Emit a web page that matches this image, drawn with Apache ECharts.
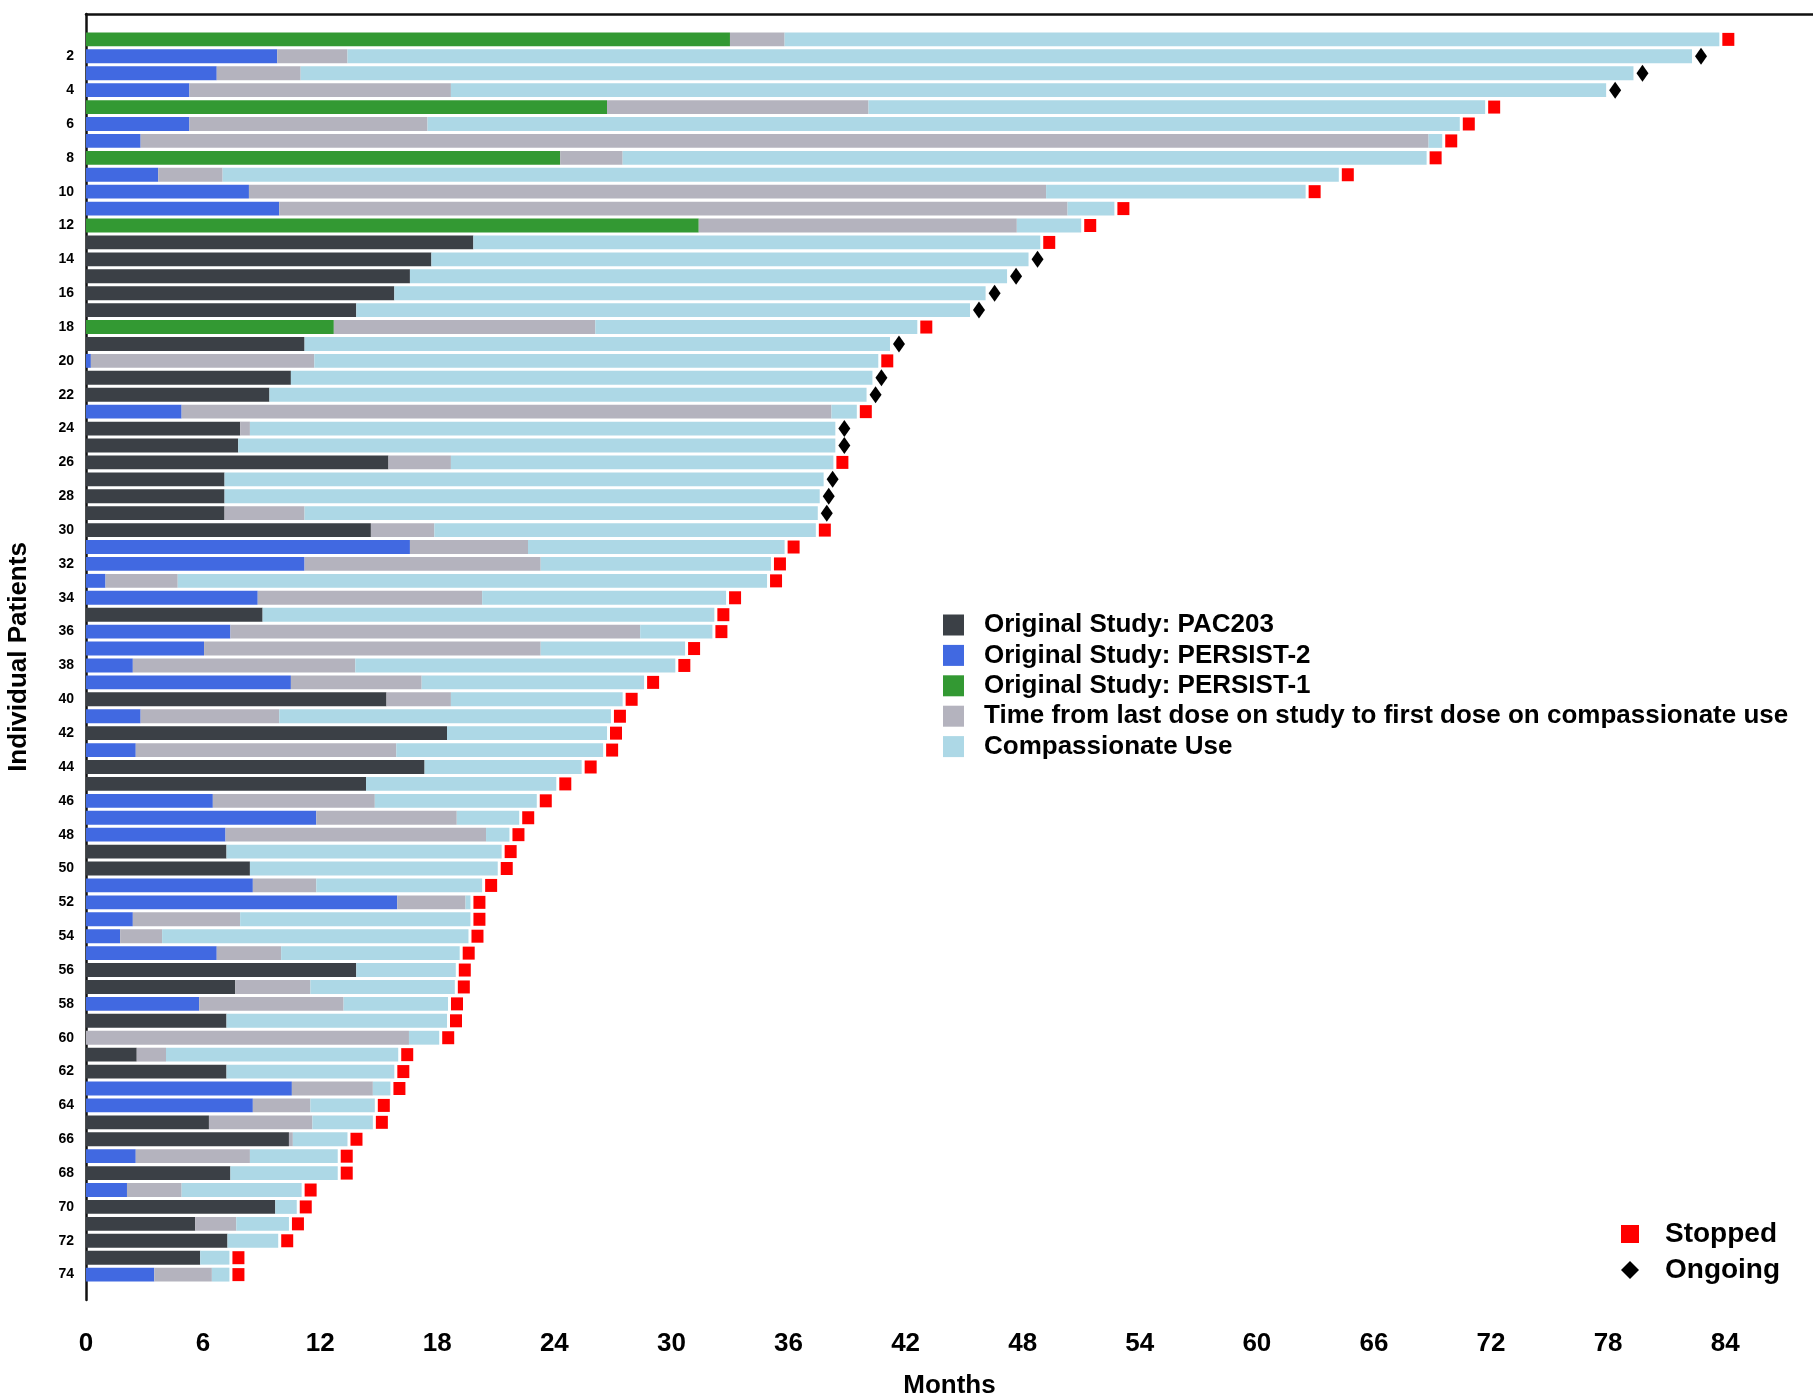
<!DOCTYPE html>
<html>
<head>
<meta charset="utf-8">
<script src="https://cdn.jsdelivr.net/npm/echarts@6/dist/echarts.min.js"></script>
<style>
  html, body { margin: 0; padding: 0; background: #fff; }
  #chart { width: 1813px; height: 1397px; }
</style>
</head>
<body>
<div id="chart"></div>
<script>
// one entry per patient, top to bottom (patient 1 .. 74)
const studyType = [
  'P1', 'P2', 'P2', 'P2', 'P1', 'P2', 'P2', 'P1', 'P2', 'P2',
  'P2', 'P1', 'PAC', 'PAC', 'PAC', 'PAC', 'PAC', 'P1', 'PAC', 'P2',
  'PAC', 'PAC', 'P2', 'PAC', 'PAC', 'PAC', 'PAC', 'PAC', 'PAC', 'PAC',
  'P2', 'P2', 'P2', 'P2', 'PAC', 'P2', 'P2', 'P2', 'P2', 'PAC',
  'P2', 'PAC', 'P2', 'PAC', 'PAC', 'P2', 'P2', 'P2', 'PAC', 'PAC',
  'P2', 'P2', 'P2', 'P2', 'P2', 'PAC', 'PAC', 'P2', 'PAC', 'P2',
  'PAC', 'PAC', 'P2', 'P2', 'PAC', 'PAC', 'P2', 'PAC', 'P2', 'PAC',
  'PAC', 'PAC', 'PAC', 'P2'
];
// months on original study
const onStudy = [
  33.0, 9.8, 6.7, 5.3, 26.7, 5.3, 2.8, 24.3, 3.7, 8.35,
  9.9, 31.4, 19.85, 17.7, 16.6, 15.8, 13.85, 12.7, 11.2, 0.25,
  10.5, 9.4, 4.9, 7.9, 7.8, 15.5, 7.1, 7.1, 7.1, 14.6,
  16.6, 11.2, 1.0, 8.8, 9.05, 7.4, 6.05, 2.4, 10.5, 15.4,
  2.8, 18.5, 2.55, 17.35, 14.35, 6.5, 11.8, 7.15, 7.2, 8.4,
  8.55, 15.95, 2.4, 1.75, 6.7, 13.85, 7.65, 5.8, 7.2, 0,
  2.6, 7.2, 10.55, 8.55, 6.3, 10.4, 2.55, 7.4, 2.1, 9.7,
  5.6, 7.25, 5.85, 3.5
];
// months from last study dose to first compassionate-use dose
const gapMonths = [
  2.8, 3.6, 4.3, 13.4, 13.4, 12.2, 66.0, 3.2, 3.3, 40.85,
  40.4, 16.3, 0, 0, 0, 0, 0, 13.4, 0, 11.45,
  0, 0, 33.3, 0.5, 0, 3.2, 0, 0, 4.1, 3.25,
  6.05, 12.1, 3.7, 11.5, 0, 21.0, 17.25, 11.4, 6.7, 3.3,
  7.1, 0, 13.35, 0, 0, 8.3, 7.2, 13.35, 0, 0,
  3.25, 3.5, 5.5, 2.15, 3.3, 0, 3.85, 7.4, 0, 16.55,
  1.5, 0, 4.15, 2.95, 5.3, 0.2, 5.85, 0, 2.8, 0,
  2.1, 0, 0, 2.95
];
// month at which the swimmer line ends
const lastMonth = [
  83.7, 82.3, 79.3, 77.9, 71.7, 70.4, 69.5, 68.7, 64.2, 62.5,
  52.7, 51.0, 48.9, 48.3, 47.2, 46.1, 45.3, 42.6, 41.2, 40.6,
  40.3, 40.0, 39.5, 38.4, 38.4, 38.3, 37.8, 37.6, 37.5, 37.4,
  35.8, 35.1, 34.9, 32.8, 32.2, 32.1, 30.7, 30.2, 28.6, 27.5,
  26.9, 26.7, 26.5, 25.4, 24.1, 23.1, 22.2, 21.7, 21.3, 21.1,
  20.3, 19.7, 19.7, 19.6, 19.15, 18.95, 18.9, 18.55, 18.5, 18.1,
  16.0, 15.8, 15.6, 14.8, 14.7, 13.4, 12.9, 12.9, 11.05, 10.8,
  10.4, 9.85, 7.35, 7.35
];
// S = stopped, O = ongoing
const status = [
  'S', 'O', 'O', 'O', 'S', 'S', 'S', 'S', 'S', 'S',
  'S', 'S', 'S', 'O', 'O', 'O', 'O', 'S', 'O', 'S',
  'O', 'O', 'S', 'O', 'O', 'S', 'O', 'O', 'O', 'S',
  'S', 'S', 'S', 'S', 'S', 'S', 'S', 'S', 'S', 'S',
  'S', 'S', 'S', 'S', 'S', 'S', 'S', 'S', 'S', 'S',
  'S', 'S', 'S', 'S', 'S', 'S', 'S', 'S', 'S', 'S',
  'S', 'S', 'S', 'S', 'S', 'S', 'S', 'S', 'S', 'S',
  'S', 'S', 'S', 'S'
];
const xTicks = [0, 6, 12, 18, 24, 30, 36, 42, 48, 54, 60, 66, 72, 78, 84];

const FONT = "'Liberation Sans', Arial, Helvetica, sans-serif";

// padding slot above patient 1 and below patient 74
const categories = ['top'].concat(onStudy.map((v, i) => String(i + 1)), ['bottom']);
const pad = (arr) => [0].concat(arr, [0]);

const studyData = (code) => pad(onStudy.map((v, i) => (studyType[i] === code ? v : 0)));
const cuData = pad(lastMonth.map((v, i) => +(v - onStudy[i] - gapMonths[i]).toFixed(2)));

const markerData = (code) => lastMonth
  .map((v, i) => (status[i] === code ? [v, i + 1] : null))
  .filter((d) => d);

const showRow = (index) => index > 0 && index < categories.length - 1 && index % 2 === 0;

const barSeries = (name, data, color) => ({
  name,
  type: 'bar',
  stack: 'swim',
  barWidth: '82%',
  data,
  itemStyle: { color },
  emphasis: { disabled: true },
  silent: true
});

const chart = echarts.init(document.getElementById('chart'), null, { renderer: 'canvas' });

chart.setOption({
  animation: false,
  backgroundColor: '#fff',
  grid: { left: 86, right: 0, top: 14, bottom: 97, outerBoundsMode: 'none' },
  legend: [
    {
      left: 938,
      top: 607,
      orient: 'vertical',
      icon: 'rect',
      itemWidth: 21,
      itemHeight: 21,
      itemGap: 4.4,
      textStyle: { fontFamily: FONT, fontSize: 26, fontWeight: 'bold', color: '#000', padding: [0, 0, 0, 15] },
      data: [
        'Original Study: PAC203',
        'Original Study: PERSIST-2',
        'Original Study: PERSIST-1',
        'Time from last dose on study to first dose on compassionate use',
        'Compassionate Use'
      ]
    },
    {
      left: 1616,
      top: 1215,
      orient: 'vertical',
      itemWidth: 18,
      itemHeight: 18,
      itemGap: 8,
      textStyle: { fontFamily: FONT, fontSize: 28, fontWeight: 'bold', color: '#000', padding: [0, 0, 0, 21] },
      data: [
        { name: 'Stopped', icon: 'rect' },
        { name: 'Ongoing', icon: 'diamond' }
      ]
    }
  ],
  xAxis: [
    {
      type: 'value',
      min: 0,
      max: 88.5,
      interval: 6,
      name: 'Months',
      nameLocation: 'middle',
      nameGap: 73,
      nameTextStyle: { fontFamily: FONT, fontSize: 26, fontWeight: 'bold', color: '#000' },
      splitLine: { show: false },
      axisLine: { lineStyle: { color: '#111', width: 2.5 } },
      axisTick: { length: 10, lineStyle: { color: '#111', width: 2 } },
      axisLabel: {
        margin: 31,
        showMaxLabel: false,
        fontFamily: FONT,
        fontSize: 26,
        fontWeight: 'bold',
        color: '#000',
        formatter: (v) => (xTicks.indexOf(v) >= 0 ? String(v) : '')
      }
    },
    {
      type: 'value',
      position: 'top',
      min: 0,
      max: 88.5,
      axisLine: { show: true, lineStyle: { color: '#111', width: 2.5 } },
      axisTick: { show: false },
      axisLabel: { show: false },
      splitLine: { show: false }
    }
  ],
  yAxis: {
    type: 'category',
    inverse: true,
    data: categories,
    name: 'Individual Patients',
    nameLocation: 'middle',
    nameGap: 54,
    nameRotate: 90,
    nameTextStyle: { fontFamily: FONT, fontSize: 26, fontWeight: 'bold', color: '#000' },
    axisLine: { lineStyle: { color: '#111', width: 2.5 } },
    axisTick: { alignWithLabel: true, interval: showRow, length: 8, lineStyle: { color: '#111', width: 2 } },
    axisLabel: {
      interval: showRow,
      margin: 12,
      fontFamily: FONT,
      fontSize: 14,
      fontWeight: 'bold',
      color: '#000'
    }
  },
  series: [
    barSeries('Original Study: PAC203', studyData('PAC'), '#3b4046'),
    barSeries('Original Study: PERSIST-2', studyData('P2'), '#4169e1'),
    barSeries('Original Study: PERSIST-1', studyData('P1'), '#339933'),
    barSeries('Time from last dose on study to first dose on compassionate use', pad(gapMonths), '#b4b3be'),
    barSeries('Compassionate Use', cuData, '#add8e6'),
    {
      name: 'Stopped',
      type: 'scatter',
      symbol: 'rect',
      symbolSize: [12, 13],
      symbolOffset: [9, 0],
      data: markerData('S'),
      itemStyle: { color: '#ff0000', opacity: 1 },
      silent: true,
      z: 5
    },
    {
      name: 'Ongoing',
      type: 'scatter',
      symbol: 'diamond',
      symbolSize: [12, 17],
      symbolOffset: [9, 0],
      data: markerData('O'),
      itemStyle: { color: '#000', opacity: 1 },
      silent: true,
      z: 5
    }
  ]
});
</script>
</body>
</html>
